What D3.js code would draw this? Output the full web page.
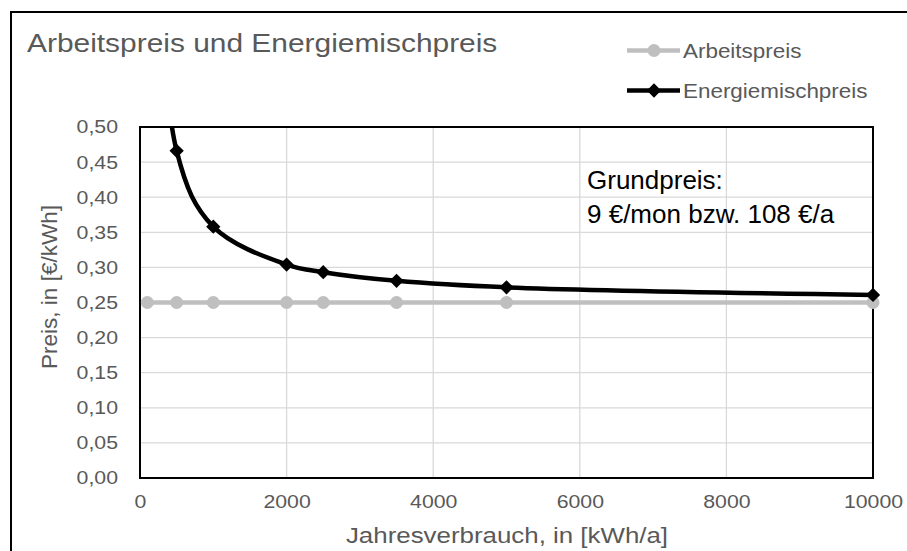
<!DOCTYPE html>
<html>
<head>
<meta charset="utf-8">
<script src="https://cdn.jsdelivr.net/npm/d3@7"></script>
<style>
  html, body { margin: 0; padding: 0; background: #fff; }
  svg { display: block; }
  text { font-family: "Liberation Sans", Arial, sans-serif; }
</style>
</head>
<body>
<svg id="chart" width="907" height="551"></svg>
<script>
// Annual consumption (kWh/a) at which both prices are evaluated
const verbrauch = [100, 500, 1000, 2000, 2500, 3500, 5000, 10000];
// Unit price (€/kWh)
const arbeitspreis = [0.25, 0.25, 0.25, 0.25, 0.25, 0.25, 0.25, 0.25];
// Blended price incl. base fee of 108 €/a (€/kWh)
const energiemischpreis = [1.33, 0.466, 0.358, 0.304, 0.2932, 0.2809, 0.2716, 0.2608];
const yTicks = [0, 0.05, 0.10, 0.15, 0.20, 0.25, 0.30, 0.35, 0.40, 0.45, 0.50];
const xTicks = [0, 2000, 4000, 6000, 8000, 10000];

const svg = d3.select("#chart");
const plot = { left: 140, right: 873, top: 127, bottom: 478 };
const WIDE = 1.15; // horizontal widening of the Arial-style labels

const x = d3.scaleLinear().domain([0, 10000]).range([plot.left, plot.right]);
const y = d3.scaleLinear().domain([0, 0.5]).range([plot.bottom, plot.top]);
const fmt = v => d3.format(".2f")(v).replace(".", ",");

// widen text glyphs horizontally by a factor
function widen(sel, k) {
  sel.each(function () {
    const len = this.getComputedTextLength();
    d3.select(this).attr("textLength", len * k).attr("lengthAdjust", "spacingAndGlyphs");
  });
}

// Outer chart frame
svg.append("rect")
  .attr("x", 11).attr("y", 12).attr("width", 920).attr("height", 560)
  .attr("fill", "#fff").attr("stroke", "#000").attr("stroke-width", 2);

// Title
svg.append("text")
  .attr("x", 27).attr("y", 52)
  .attr("font-size", 26).attr("fill", "#595959")
  .text("Arbeitspreis und Energiemischpreis")
  .call(widen, WIDE);

// Gridlines
const grid = svg.append("g");
grid.selectAll("line.h").data(yTicks.slice(1)).join("line")
  .attr("x1", plot.left).attr("x2", plot.right)
  .attr("y1", d => y(d)).attr("y2", d => y(d))
  .attr("stroke", "#d9d9d9").attr("stroke-width", 1.3);
grid.selectAll("line.v").data(xTicks.slice(1)).join("line")
  .attr("y1", plot.top).attr("y2", plot.bottom)
  .attr("x1", d => x(d)).attr("x2", d => x(d))
  .attr("stroke", "#d9d9d9").attr("stroke-width", 1.3);

// Axes (labels only, no tick marks)
const yAxis = svg.append("g")
  .attr("transform", `translate(${plot.left},0)`)
  .call(d3.axisLeft(y).tickValues(yTicks).tickFormat(fmt).tickSize(0).tickPadding(22));
const xAxis = svg.append("g")
  .attr("transform", `translate(0,${plot.bottom})`)
  .call(d3.axisBottom(x).tickValues(xTicks).tickFormat(d3.format("d")).tickSize(0).tickPadding(17));
[yAxis, xAxis].forEach(a => {
  a.select(".domain").remove();
  a.selectAll("text")
    .attr("font-family", "Liberation Sans, Arial, sans-serif")
    .attr("font-size", 18.5).attr("fill", "#595959")
    .call(widen, WIDE);
});

// Axis titles
svg.append("text")
  .attr("transform", `translate(51,287) rotate(-90)`)
  .attr("text-anchor", "middle").attr("dominant-baseline", "middle")
  .attr("font-size", 22.5).attr("fill", "#595959")
  .text("Preis, in [€/kWh]");
svg.append("text")
  .attr("x", 507).attr("y", 543)
  .attr("text-anchor", "middle")
  .attr("font-size", 22.5).attr("fill", "#595959")
  .text("Jahresverbrauch, in [kWh/a]")
  .call(widen, WIDE);

// Clip region for series
svg.append("clipPath").attr("id", "plotClip")
  .append("rect")
  .attr("x", plot.left).attr("y", plot.top)
  .attr("width", plot.right - plot.left).attr("height", plot.bottom - plot.top);

const series = svg.append("g").attr("clip-path", "url(#plotClip)");
const pts = vals => verbrauch.map((v, i) => [v, vals[i]]);
const line = d3.line().x(d => x(d[0])).y(d => y(d[1])).curve(d3.curveCatmullRom.alpha(0.5));

// Arbeitspreis
series.append("path")
  .attr("d", line(pts(arbeitspreis)))
  .attr("fill", "none").attr("stroke", "#bfbfbf").attr("stroke-width", 4.5);

// Energiemischpreis
series.append("path")
  .attr("d", line(pts(energiemischpreis)))
  .attr("fill", "none").attr("stroke", "#000").attr("stroke-width", 4.5);

// Plot area border
svg.append("rect")
  .attr("x", plot.left).attr("y", plot.top)
  .attr("width", plot.right - plot.left).attr("height", plot.bottom - plot.top)
  .attr("fill", "none").attr("stroke", "#000").attr("stroke-width", 2);

// Markers (drawn over the border, only points inside the value range)
const markers = svg.append("g");
markers.selectAll("circle").data(pts(arbeitspreis)).join("circle")
  .attr("cx", d => x(d[0])).attr("cy", d => y(d[1])).attr("r", 6.5)
  .attr("fill", "#bfbfbf");
const diamond = d3.symbol().type(d3.symbolDiamond2).size(130);
markers.selectAll("path").data(pts(energiemischpreis).filter(d => d[1] <= 0.5)).join("path")
  .attr("transform", d => `translate(${x(d[0])},${y(d[1])})`)
  .attr("d", diamond).attr("fill", "#000");

// Annotation
const note = svg.append("g").attr("font-family", "Lato, 'Open Sans', sans-serif")
  .attr("font-size", 26).attr("fill", "#000");
note.append("text").attr("x", 587).attr("y", 189).text("Grundpreis:");
note.append("text").attr("x", 587).attr("y", 223).text("9 €/mon bzw. 108 €/a");

// Legend
const legend = svg.append("g");
const legendItems = [
  { name: "Arbeitspreis", color: "#bfbfbf", shape: "circle", y: 50.5 },
  { name: "Energiemischpreis", color: "#000", shape: "diamond", y: 90.5 }
];
legendItems.forEach(it => {
  const g = legend.append("g");
  g.append("line").attr("x1", 627).attr("x2", 680).attr("y1", it.y).attr("y2", it.y)
    .attr("stroke", it.color).attr("stroke-width", 4.5);
  if (it.shape === "circle") {
    g.append("circle").attr("cx", 654).attr("cy", it.y).attr("r", 6.5).attr("fill", it.color);
  } else {
    g.append("path").attr("transform", `translate(654,${it.y})`).attr("d", diamond).attr("fill", it.color);
  }
  g.append("text").attr("x", 683).attr("y", it.y).attr("dominant-baseline", "central")
    .attr("font-size", 19.5).attr("fill", "#595959").text(it.name)
    .call(widen, WIDE);
});
</script>
</body>
</html>
